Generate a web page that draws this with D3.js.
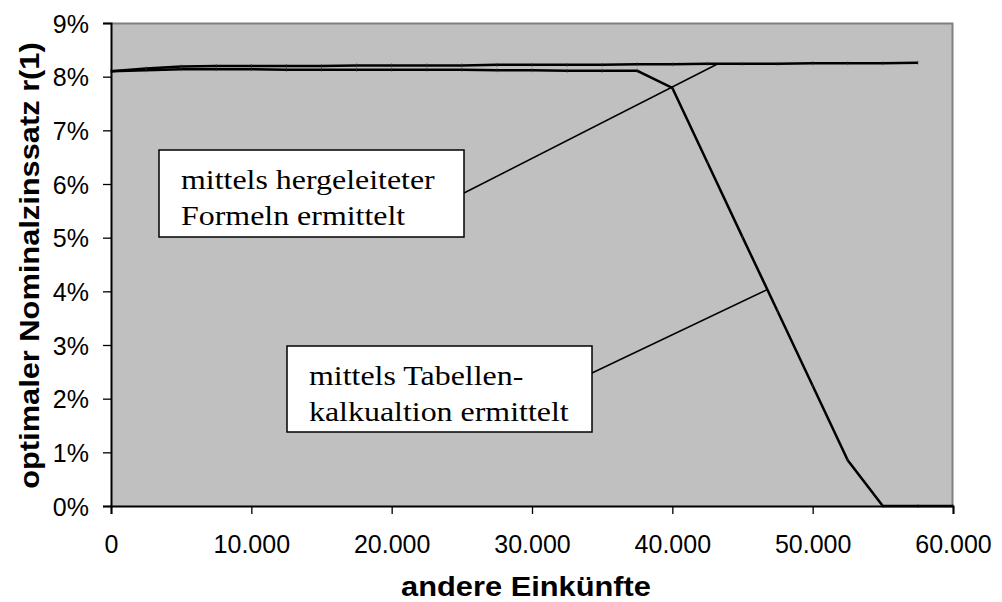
<!DOCTYPE html>
<html>
<head>
<meta charset="utf-8">
<script src="https://cdn.jsdelivr.net/npm/d3@7"></script>
<style>
  html, body { margin: 0; padding: 0; background: #fff; }
  svg { display: block; }
</style>
</head>
<body>
<svg id="chart" width="1002" height="602"></svg>
<script>
// Einkommensstufen (andere Einkünfte)
const incomes = [0, 2500, 5000, 7500, 10000, 12500, 15000, 17500, 20000, 22500, 25000,
  27500, 30000, 32500, 35000, 37500, 40000, 42500, 45000, 47500, 50000, 52500, 55000, 57500, 60000];

// optimaler Nominalzinssatz r(1) in %, mittels hergeleiteter Formeln
const rateFormula = [8.10, 8.15, 8.19, 8.20, 8.20, 8.20, 8.20, 8.21, 8.21, 8.21, 8.21, 8.22,
  8.22, 8.22, 8.22, 8.23, 8.23, 8.24, 8.24, 8.24, 8.25, 8.25, 8.25, 8.26];

// optimaler Nominalzinssatz r(1) in %, mittels Tabellenkalkulation
const rateTable = [8.10, 8.12, 8.14, 8.14, 8.14, 8.13, 8.13, 8.13, 8.13, 8.13, 8.13, 8.12,
  8.12, 8.11, 8.11, 8.11, 7.79, 6.40, 5.01, 3.63, 2.24, 0.85, 0, 0, 0];

const xTicks = [0, 10000, 20000, 30000, 40000, 50000, 60000];
const yTicks = [0, 1, 2, 3, 4, 5, 6, 7, 8, 9];

const xTitle = "andere Einkünfte";
const yTitle = "optimaler Nominalzinssatz r(1)";

const calloutFormula = ["mittels hergeleiteter", "Formeln ermittelt"];
const calloutTable = ["mittels Tabellen-", "kalkualtion ermittelt"];
// Punkte, auf die die Beschriftungen zeigen
const anchorFormula = { income: 43250, rate: 8.24 };
const anchorTable = { income: 46820, rate: 4.04 };

const W = 1002, H = 602;
const margin = { top: 23, right: 49, bottom: 96, left: 111 };
const iw = W - margin.left - margin.right;
const ih = H - margin.top - margin.bottom;

const SANS = "'Liberation Sans', Arial, Helvetica, sans-serif";
const SERIF = "'Liberation Serif', 'Times New Roman', serif";

const de = d3.formatLocale({ decimal: ",", thousands: ".", grouping: [3], currency: ["", " €"] });
const fmtX = de.format(",d");

const svg = d3.select("#chart");
const g = svg.append("g").attr("transform", `translate(${margin.left},${margin.top})`);

const x = d3.scaleLinear().domain([0, 60000]).range([0, iw]);
const y = d3.scaleLinear().domain([0, 9]).range([ih, 0]);

// Zeichenfläche
g.append("rect")
  .attr("x", 0).attr("y", 0).attr("width", iw).attr("height", ih)
  .attr("fill", "#c0c0c0");
// Rahmen oben und rechts
g.append("path")
  .attr("d", `M0,0.5H${iw - 0.5}V${ih}`)
  .attr("fill", "none").attr("stroke", "#808080").attr("stroke-width", 2);

const lineGen = d3.line()
  .x(d => x(d[0]))
  .y(d => y(d[1]));

const formulaPts = rateFormula.map((v, i) => [incomes[i], v]);
const tablePts = rateTable.map((v, i) => [incomes[i], v]);

[formulaPts, tablePts].forEach(pts => {
  g.append("path")
    .datum(pts)
    .attr("d", lineGen)
    .attr("fill", "none")
    .attr("stroke", "#000")
    .attr("stroke-width", 2.5)
    .attr("stroke-linejoin", "miter");
  // feine Markierungen an den Datenpunkten
  g.selectAll(null).data(pts).enter().append("line")
    .attr("x1", d => x(d[0])).attr("x2", d => x(d[0]))
    .attr("y1", d => y(d[1]) - 2).attr("y2", d => y(d[1]) + 2)
    .attr("stroke", "#333").attr("stroke-opacity", 0.6).attr("stroke-width", 1);
});

// Achsen
const xAxis = d3.axisBottom(x).tickValues(xTicks).tickFormat(fmtX).tickSizeOuter(0).tickSize(8).tickPadding(21);
const yAxis = d3.axisLeft(y).tickValues(yTicks).tickFormat(d => d + "%").tickSizeOuter(0).tickSize(8).tickPadding(14);

const gx = g.append("g").attr("transform", `translate(0,${ih})`).call(xAxis);
const gy = g.append("g").call(yAxis);

[gx, gy].forEach(ax => {
  ax.select(".domain").attr("stroke", "#000").attr("stroke-width", 2);
  ax.selectAll(".tick line").attr("stroke", "#000").attr("stroke-width", 1.3);
  ax.selectAll(".tick text")
    .attr("fill", "#000")
    .style("font-family", SANS)
    .style("font-size", "25px");
});
gy.selectAll(".tick text").attr("dy", "0.36em");

// Achsentitel
svg.append("text")
  .attr("transform", `translate(${margin.left + iw / 2 - 6},596) scale(1.1,1)`)
  .attr("text-anchor", "middle")
  .style("font-family", SANS)
  .style("font-size", "28px")
  .style("font-weight", "bold")
  .text(xTitle);

svg.append("text")
  .attr("transform", `translate(39,${margin.top + ih / 2 + 1}) rotate(-90) scale(1.1,1)`)
  .attr("text-anchor", "middle")
  .style("font-family", SANS)
  .style("font-size", "28px")
  .style("font-weight", "bold")
  .text(yTitle);

// Beschriftungen mit Hinweislinien
function callout(box, lines, anchor, leaderFromY) {
  g.append("line")
    .attr("x1", box.x + box.w - margin.left).attr("y1", leaderFromY - margin.top)
    .attr("x2", x(anchor.income)).attr("y2", y(anchor.rate))
    .attr("stroke", "#000").attr("stroke-width", 1.5);
  const bg = svg.append("g");
  bg.append("rect")
    .attr("x", box.x).attr("y", box.y).attr("width", box.w).attr("height", box.h)
    .attr("fill", "#fff").attr("stroke", "#000").attr("stroke-width", 1.5);
  bg.selectAll(null).data(lines).enter().append("text")
    .attr("transform", (d, i) => `translate(${box.x + 22},${box.y + 38.5 + i * 36}) scale(1.14,1)`)
    .style("font-family", SERIF)
    .style("font-size", "28px")
    .attr("fill", "#000")
    .text(d => d);
}

callout({ x: 159, y: 150, w: 305, h: 87 }, calloutFormula, anchorFormula, 193);
callout({ x: 287, y: 346, w: 305, h: 86 }, calloutTable, anchorTable, 373);
</script>
</body>
</html>
